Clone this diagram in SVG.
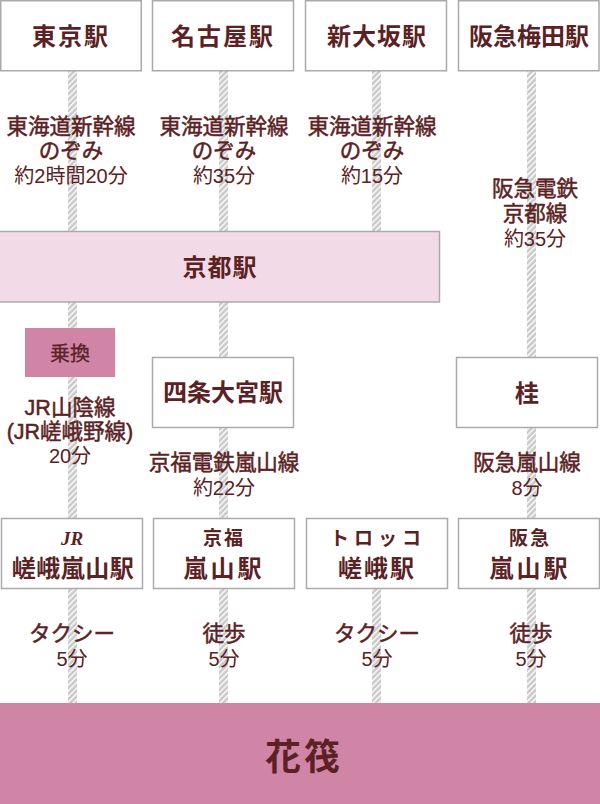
<svg xmlns="http://www.w3.org/2000/svg" width="600" height="804" viewBox="0 0 600 804">
<defs>
<pattern id="hatch" patternUnits="userSpaceOnUse" width="4" height="4" patternTransform="rotate(45)">
<rect width="4" height="4" fill="#c9c9c9"/>
<rect x="0" y="0" width="1.4" height="4" fill="#ffffff"/>
</pattern>
</defs>
<style>
.box{fill:#ffffff;stroke:#aaaaaa;stroke-width:1.5}
.kyoto{fill:#f2dbe7;stroke:#aaaaaa;stroke-width:1.5}
.pink{fill:#d084a6}
.line{fill:url(#hatch)}
.title{font-family:"Noto Sans CJK JP","Noto Sans CJK SC",sans-serif;font-size:24px;font-weight:bold;fill:#5a2224;text-anchor:middle}
.sub{font-family:"Noto Sans CJK JP",sans-serif;font-size:19px;font-weight:bold;fill:#5a2224;text-anchor:middle}
.jr{font-family:"Liberation Serif",serif;font-style:italic;font-weight:bold;font-size:19px;fill:#5a2224;text-anchor:middle}
.lbl{font-family:"Liberation Sans","Noto Sans CJK JP",sans-serif;font-size:21.5px;font-weight:normal;fill:#5a2224;stroke:#5a2224;stroke-width:0.5px;text-anchor:middle}
.time{font-family:"Liberation Sans","Noto Sans CJK JP",sans-serif;font-size:20px;fill:#5a2224;text-anchor:middle}
</style>
<rect width="600" height="804" fill="#ffffff"/>
<g id="connectors">
<rect class="line" x="68" y="71" width="9" height="632"/>
<rect class="line" x="219" y="71" width="9" height="632"/>
<rect class="line" x="372" y="71" width="9" height="160"/>
<rect class="line" x="372" y="589" width="9" height="114"/>
<rect class="line" x="527" y="71" width="9" height="632"/>
</g>
<g id="tokyo"><rect class="box" x="0.75" y="0.75" width="140.5" height="70"/><text class="title" x="71" y="45" style="letter-spacing:2px">東京駅</text></g>
<g id="nagoya"><rect class="box" x="152.5" y="0.75" width="141" height="70"/><text class="title" x="223" y="45" style="letter-spacing:2px">名古屋駅</text></g>
<g id="shinosaka"><rect class="box" x="305.5" y="0.75" width="141" height="70"/><text class="title" x="377" y="45" style="letter-spacing:1px">新大坂駅</text></g>
<g id="umeda"><rect class="box" x="458.5" y="0.75" width="140.5" height="70"/><text class="title" x="529" y="45">阪急梅田駅</text></g>
<g id="kyoto"><rect class="kyoto" x="-2" y="231.5" width="441.5" height="70.5"/><text class="title" x="220" y="276" style="letter-spacing:1px">京都駅</text></g>
<g id="norikae"><rect class="pink" x="25" y="328" width="90" height="49"/><text class="lbl" x="70" y="361" style="font-size:20px;stroke-width:0.3px">乗換</text></g>
<g id="shijo-omiya"><rect class="box" x="152.5" y="357.5" width="141" height="70"/><text class="title" x="223" y="401">四条大宮駅</text></g>
<g id="katsura"><rect class="box" x="456.5" y="357.5" width="141" height="70"/><text class="title" x="527" y="402">桂</text></g>
<g id="jr-saga-arashiyama"><rect class="box" x="1.5" y="518.5" width="141" height="70"/><text class="jr" x="72" y="545">JR</text><text class="title" x="73" y="577" style="letter-spacing:0.5px">嵯峨嵐山駅</text></g>
<g id="keifuku-arashiyama"><rect class="box" x="153.5" y="518.5" width="141" height="70"/><text class="sub" x="224" y="545" style="letter-spacing:2px">京福</text><text class="title" x="224" y="577" style="letter-spacing:3px">嵐山駅</text></g>
<g id="torokko-saga"><rect class="box" x="306.5" y="518.5" width="141" height="70"/><text class="sub" x="378" y="545" style="letter-spacing:5px">トロッコ</text><text class="title" x="377" y="577" style="letter-spacing:2px">嵯峨駅</text></g>
<g id="hankyu-arashiyama"><rect class="box" x="458.5" y="518.5" width="141" height="70"/><text class="sub" x="530" y="545" style="letter-spacing:2px">阪急</text><text class="title" x="530" y="577" style="letter-spacing:3px">嵐山駅</text></g>
<g id="hanaikada"><rect class="pink" x="0" y="703" width="600" height="101"/><text class="title" x="304" y="770" style="font-size:36px;letter-spacing:3px">花筏</text></g>
<g id="labels">
<text class="lbl" x="71" y="134">東海道新幹線</text>
<text class="lbl" x="71" y="158">のぞみ</text>
<text class="time" x="71" y="183">約2時間20分</text>
<text class="lbl" x="224" y="134">東海道新幹線</text>
<text class="lbl" x="224" y="158">のぞみ</text>
<text class="time" x="224" y="183">約35分</text>
<text class="lbl" x="372" y="134">東海道新幹線</text>
<text class="lbl" x="372" y="158">のぞみ</text>
<text class="time" x="372" y="183">約15分</text>
<text class="lbl" x="535" y="196">阪急電鉄</text>
<text class="lbl" x="535" y="221">京都線</text>
<text class="time" x="535" y="246">約35分</text>
<text class="lbl" x="70" y="415">JR山陰線</text>
<text class="lbl" x="70" y="439">(JR嵯峨野線)</text>
<text class="time" x="70" y="463">20分</text>
<text class="lbl" x="224" y="470">京福電鉄嵐山線</text>
<text class="time" x="224" y="495">約22分</text>
<text class="lbl" x="527" y="470">阪急嵐山線</text>
<text class="time" x="527" y="495">8分</text>
<text class="lbl" x="72" y="641">タクシー</text>
<text class="time" x="72" y="666">5分</text>
<text class="lbl" x="224" y="641">徒歩</text>
<text class="time" x="224" y="666">5分</text>
<text class="lbl" x="377" y="641">タクシー</text>
<text class="time" x="377" y="666">5分</text>
<text class="lbl" x="531" y="641">徒歩</text>
<text class="time" x="531" y="666">5分</text>
</g>
</svg>
